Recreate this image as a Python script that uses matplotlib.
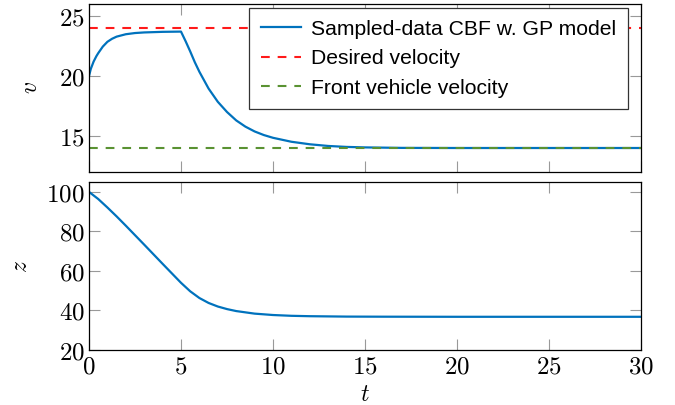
import numpy as np
import matplotlib
matplotlib.use('Agg')
import matplotlib.pyplot as plt
from matplotlib.ticker import FuncFormatter, MultipleLocator

plt.rcParams['mathtext.fontset'] = 'cm'

# values
t_v = [0, 0.1, 0.25, 0.4, 0.5, 0.75, 1, 1.25, 1.5, 2, 2.5, 3, 4, 5,
       5.25, 5.5, 5.75, 6, 6.5, 7, 7.5, 8, 8.5, 9, 9.5, 10, 11, 12, 13, 14, 15, 17, 20, 25, 30]
v = [20.0, 20.6, 21.2, 21.65, 21.9, 22.45, 22.85, 23.1, 23.28, 23.48, 23.58, 23.63, 23.68, 23.7,
     22.9, 22.05, 21.15, 20.35, 18.95, 17.85, 17.0, 16.3, 15.78, 15.38, 15.08, 14.85, 14.52, 14.31, 14.17, 14.09, 14.05, 14.01, 14.0, 14.0, 14.0]
t_z = [0, 0.5, 1, 1.5, 2, 3, 4, 5, 5.5, 6, 6.5, 7, 7.5, 8, 9, 10, 11, 12, 14, 16, 20, 30]
z = [100, 96.4, 92.1, 87.6, 82.9, 73.3, 63.6, 54.0, 49.7, 46.3, 43.8, 42.0, 40.7, 39.7, 38.4, 37.7, 37.3, 37.1, 36.9, 36.85, 36.8, 36.8]
v_desired = 24
v_front = 14
labels = ['Sampled-data CBF w. GP model', 'Desired velocity', 'Front vehicle velocity']

blue = '#0072BD'
red = '#FF1A1A'
green = '#5A9232'

fig = plt.figure(figsize=(6.75, 4.05), dpi=100)
ax1 = fig.add_axes([89/675, 1-172/405, 552/675, 168/405])
ax2 = fig.add_axes([89/675, 1-350/405, 552/675, 168/405])

ax1.plot(t_v, v, color=blue, lw=1.6, label=labels[0])
ax1.axhline(v_desired, color=red, lw=1.5, ls=(0, (4.2, 3.8)), label=labels[1])
ax1.axhline(v_front, color=green, lw=1.5, ls=(0, (4.2, 3.8)), label=labels[2])
ax2.plot(t_z, z, color=blue, lw=1.6)

fmt = FuncFormatter(lambda x, p: '$%d$' % x)
for ax in (ax1, ax2):
    ax.set_xlim(0, 30)
    ax.xaxis.set_major_locator(MultipleLocator(5))
    ax.tick_params(direction='in', length=8, width=0.8, color='#999999',
                   top=True, right=True, labelsize=18, pad=3)
    ax.yaxis.set_major_formatter(fmt)
    for s in ax.spines.values():
        s.set_linewidth(0.9)
        s.set_color('black')

ax1.set_ylim(12, 26)
ax1.yaxis.set_major_locator(MultipleLocator(5))
ax1.tick_params(labelbottom=False)
ax1.set_ylabel('$v$', fontsize=17, labelpad=12)

ax2.set_ylim(20, 105)
ax2.yaxis.set_major_locator(MultipleLocator(20))
ax2.xaxis.set_major_formatter(fmt)
ax2.set_ylabel('$z$', fontsize=17, labelpad=10)
ax2.set_xlabel('$t$', fontsize=17, labelpad=3)

leg = ax1.legend(loc='upper right', bbox_to_anchor=((628-89)/552, 1-4/168),
                 borderaxespad=0, fancybox=False, framealpha=1, edgecolor='#333333',
                 prop={'family': 'Liberation Sans', 'size': 15.2}, handlelength=1.9,
                 labelspacing=0.5, handletextpad=0.48, borderpad=0.55)
leg.get_frame().set_linewidth(0.9)

fig.savefig('out.png', dpi=100)
